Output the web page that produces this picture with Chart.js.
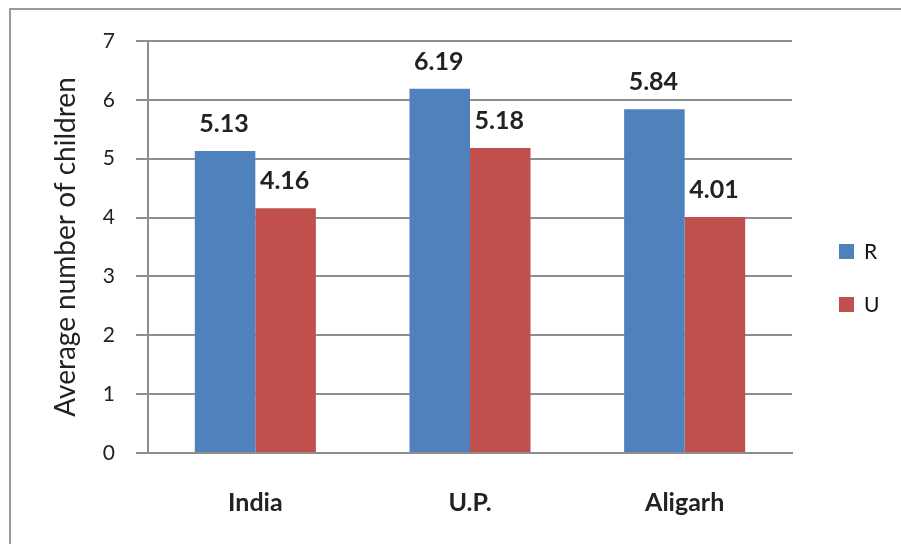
<!DOCTYPE html>
<html>
<head>
<meta charset="utf-8">
<script src="https://cdn.jsdelivr.net/npm/chart.js@4.4.0/dist/chart.umd.min.js"></script>
<style>
  html, body { margin: 0; padding: 0; background: #fff; }
  #wrap { width: 901px; height: 544px; }
</style>
</head>
<body>
<div id="wrap"><canvas id="avgChart" width="901" height="544"></canvas></div>
<script>
// data
const categories = ['India', 'U.P.', 'Aligarh'];
const seriesR = [5.13, 6.19, 5.84];
const seriesU = [4.16, 5.18, 4.01];
const yTicks = [0, 1, 2, 3, 4, 5, 6, 7];

const gridColor = '#8e8e8e';
const fontFamily = 'Lato, "Open Sans", sans-serif';

// outer frame (left and top edges visible in the source)
const framePlugin = {
  id: 'frame',
  beforeDraw: function (chart) {
    const ctx = chart.ctx;
    ctx.save();
    ctx.strokeStyle = '#9a9a9a';
    ctx.lineWidth = 2;
    ctx.beginPath();
    ctx.moveTo(10, chart.height);
    ctx.lineTo(10, 9);
    ctx.lineTo(chart.width, 9);
    ctx.stroke();
    ctx.restore();
  }
};

// numbers above each bar
const valueLabels = {
  id: 'valueLabels',
  afterDatasetsDraw: function (chart) {
    const ctx = chart.ctx;
    ctx.save();
    ctx.font = 'bold 25px ' + fontFamily;
    ctx.fillStyle = '#222';
    ctx.textAlign = 'center';
    ctx.textBaseline = 'middle';
    chart.data.datasets.forEach(function (ds, i) {
      const meta = chart.getDatasetMeta(i);
      meta.data.forEach(function (bar, j) {
        ctx.fillText(ds.data[j].toFixed(2), bar.x - 1, bar.y - 27);
      });
    });
    ctx.restore();
  }
};

// legend drawn on the right, Excel style
const sideLegend = {
  id: 'sideLegend',
  afterDraw: function (chart) {
    const ctx = chart.ctx;
    const area = chart.chartArea;
    const x = area.right + 47;
    let y = 252;
    ctx.save();
    ctx.font = '21px ' + fontFamily;
    ctx.textBaseline = 'middle';
    ctx.textAlign = 'left';
    chart.data.datasets.forEach(function (ds) {
      ctx.fillStyle = ds.backgroundColor;
      ctx.fillRect(x, y - 8, 15, 15);
      ctx.fillStyle = '#111';
      ctx.fillText(ds.label, x + 25, y);
      y += 53;
    });
    ctx.restore();
  }
};

const barData = {
  labels: categories,
  datasets: [
    { label: 'R', data: seriesR, backgroundColor: '#4F81BD' },
    { label: 'U', data: seriesU, backgroundColor: '#C0504D' }
  ]
};

const config = {
  type: 'bar',
  data: barData,
  options: {
    responsive: false,
    animation: false,
    layout: { padding: { top: 41, right: 109, left: 0, bottom: 0 } },
    datasets: {
      bar: { barPercentage: 1, categoryPercentage: 0.564 }
    },
    plugins: {
      legend: { display: false },
      tooltip: { enabled: false }
    },
    scales: {
      x: {
        grid: { display: false, drawTicks: false },
        border: { display: true, color: gridColor, width: 2 },
        ticks: {
          color: '#222',
          padding: 35,
          font: { family: fontFamily, size: 25, weight: 'bold' }
        },
        afterFit: function (s) { s.height = 91; }
      },
      y: {
        min: 0,
        max: 7,
        afterBuildTicks: function (s) {
          s.ticks = yTicks.map(function (v) { return { value: v }; });
        },
        grid: { color: gridColor, lineWidth: 2, tickLength: 12 },
        border: { display: true, color: gridColor, width: 2 },
        ticks: {
          color: '#222',
          padding: 21,
          font: { family: fontFamily, size: 21 }
        },
        title: {
          display: true,
          text: 'Average number of children',
          color: '#222',
          padding: { top: 49, bottom: 0 },
          font: { family: fontFamily, size: 28 }
        },
        afterFit: function (s) { s.width = 148; }
      }
    }
  },
  plugins: [framePlugin, valueLabels, sideLegend]
};

var ctx = document.getElementById('avgChart');
const avgChart = new Chart(ctx, config);
</script>
</body>
</html>
